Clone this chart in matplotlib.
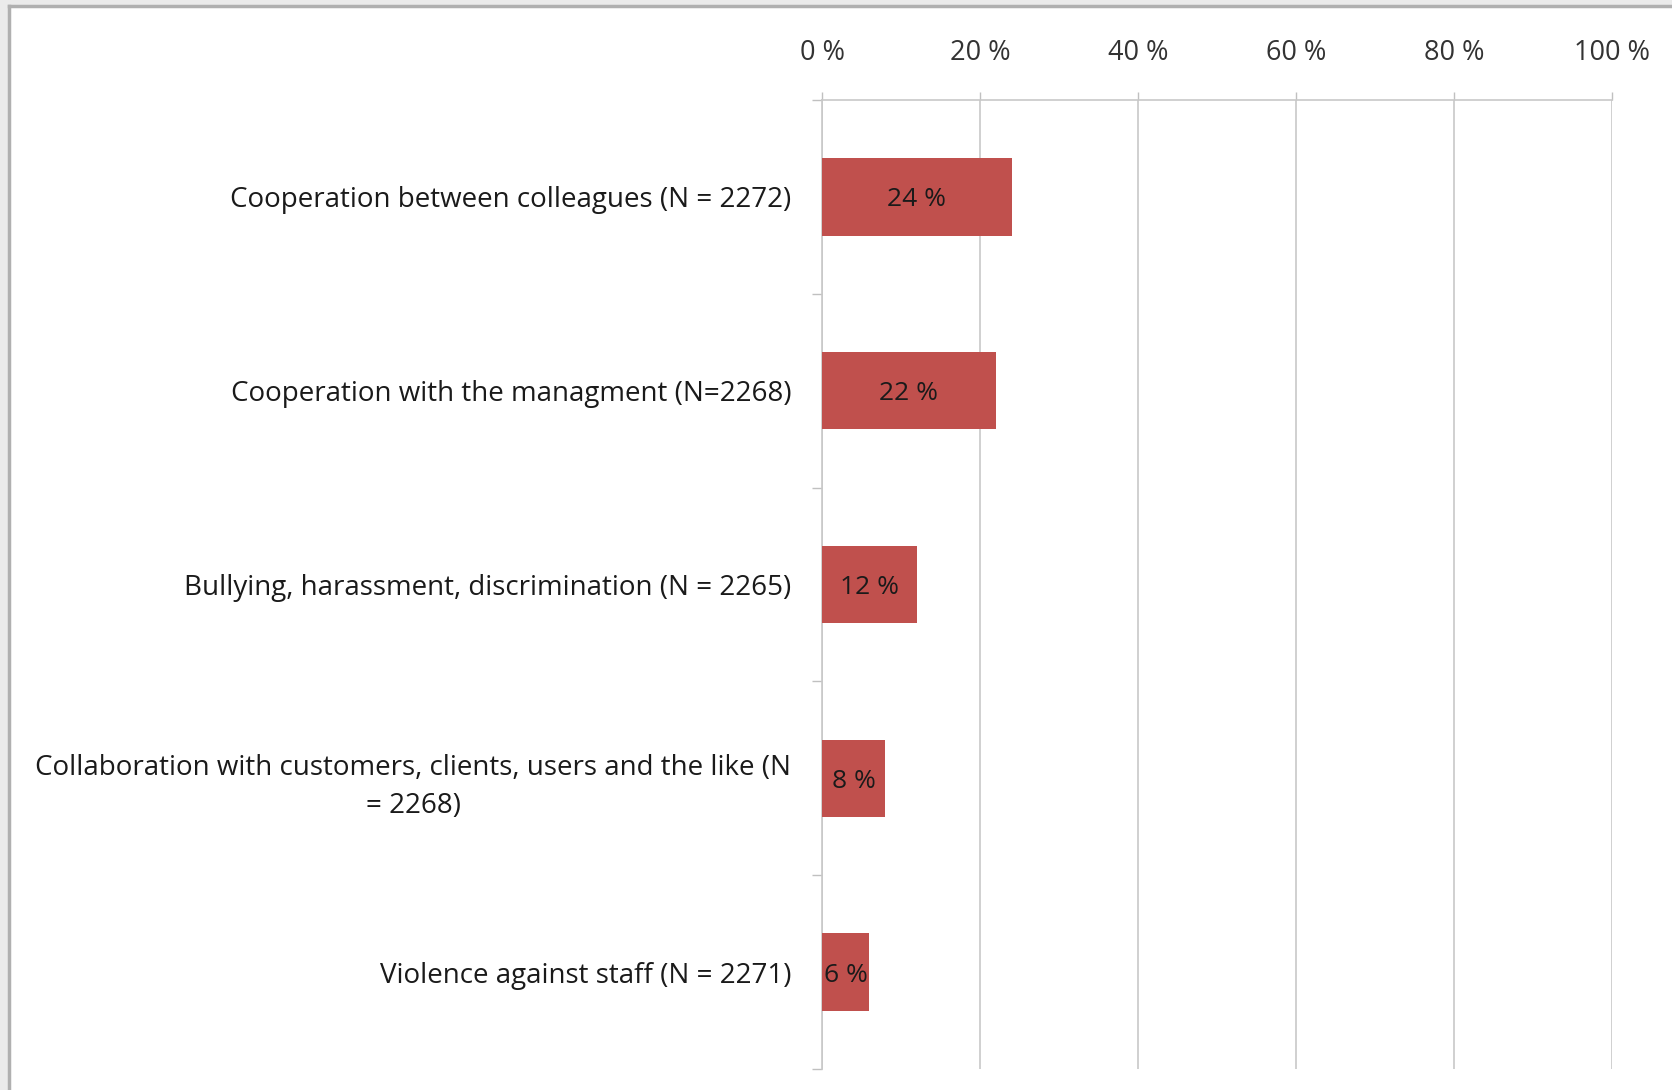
import matplotlib.pyplot as plt
from matplotlib.patches import Rectangle
from matplotlib.lines import Line2D
import numpy as np

# categories, top to bottom
categories = ['Cooperation between colleagues (N = 2272)',
              'Cooperation with the managment (N=2268)',
              'Bullying, harassment, discrimination (N = 2265)',
              'Collaboration with customers, clients, users and the like (N\n= 2268)',
              'Violence against staff (N = 2271)']
values = [24, 22, 12, 8, 6]
xticks = [0, 20, 40, 60, 80, 100]
xtick_labels = ['0 %', '20 %', '40 %', '60 %', '80 %', '100 %']

plt.rcParams['font.family'] = ['Open Sans', 'DejaVu Sans']

fig = plt.figure(figsize=(16.72, 10.90), dpi=100, facecolor='#ebebeb')

# white panel with grey frame (cut off at right and bottom)
W, H = 1672, 1090
fig.patches.append(Rectangle((9 / W, 0), 1, 1 - 6 / H, transform=fig.transFigure,
                             facecolor='white', edgecolor='none', zorder=-2))
fig.lines.append(Line2D([9 / W, 9 / W], [0, 1 - 6 / H], transform=fig.transFigure,
                        color='#b0b0b0', lw=2.5, zorder=-1))
fig.lines.append(Line2D([9 / W, 1], [1 - 6 / H, 1 - 6 / H], transform=fig.transFigure,
                        color='#b0b0b0', lw=2.5, zorder=-1))

ax = fig.add_axes([822 / W, 1 - 1069 / H, 790 / W, 969 / H])
ax.set_facecolor('none')

y = np.arange(len(categories))
ax.barh(y, values, height=0.4, color='#c0504d', zorder=3)
for yi, v in zip(y, values):
    ax.text(v / 2, yi, f'{v} %', ha='center', va='center_baseline', fontsize=19,
            color='#1a1a1a', zorder=4)

ax.set_xlim(0, 100)
ax.set_ylim(len(categories) - 0.5, -0.5)

ax.xaxis.tick_top()
ax.set_xticks(xticks)
ax.set_xticklabels(xtick_labels, fontsize=19.5, color='#333333')
ax.tick_params(axis='x', length=6, width=1, color='#c0c0c0', pad=18)
ax.grid(axis='x', color='#c8c8c8', lw=1.2, zorder=0)

ax.set_yticks(y)
ax.set_yticklabels(categories, fontsize=20, color='#1a1a1a',
                   multialignment='center', linespacing=1.5)
ax.set_yticks(np.arange(len(categories) + 1) - 0.5, minor=True)
ax.tick_params(axis='y', which='major', length=0, pad=22)
ax.tick_params(axis='y', which='minor', length=7, width=1, color='#c0c0c0')

for s in ['right', 'bottom']:
    ax.spines[s].set_visible(False)
for s in ['left', 'top']:
    ax.spines[s].set_color('#c8c8c8')
    ax.spines[s].set_linewidth(1.2)

plt.savefig('out.png', dpi=100, facecolor=fig.get_facecolor())
